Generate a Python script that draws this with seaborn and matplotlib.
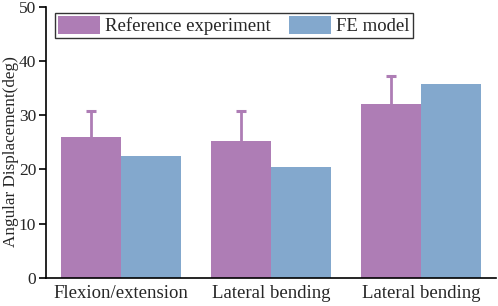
import matplotlib
matplotlib.use("Agg")
import matplotlib.pyplot as plt
import seaborn as sns
import pandas as pd
import numpy as np

# %% data
categories = ["Flexion/extension", "Lateral bending", "Lateral bending"]
reference = [25.9, 25.3, 32.1]
reference_err = [4.8, 5.4, 5.1]
fe_model = [22.4, 20.4, 35.7]
series = ["Reference experiment", "FE model"]
colors = ["#AE7DB5", "#83A8CD"]

df = pd.DataFrame({
    "pos": list(range(len(categories))) * 2,
    "value": reference + fe_model,
    "series": [series[0]] * 3 + [series[1]] * 3,
})

# %% figure
sns.set_style("ticks")
plt.rcParams["font.family"] = ["Liberation Serif", "DejaVu Serif"]
fig = plt.figure(figsize=(4.98, 3.06), dpi=100)
ax = fig.add_axes([46 / 498, 1 - 277.7 / 306, 450 / 498, 270.7 / 306])

sns.barplot(data=df, x="pos", y="value", hue="series", palette=colors,
            width=0.8, saturation=1, errorbar=None, linewidth=0, ax=ax)

# upper-only error bars on the reference bars
ref_bars = ax.containers[0]
xs = np.array([b.get_x() + b.get_width() / 2 for b in ref_bars])
tops = np.array(reference) + np.array(reference_err)
ax.vlines(xs, reference, tops, color=colors[0], linewidth=2, zorder=1)
ax.plot(xs, tops, linestyle="none", marker="_", markersize=7,
        markeredgewidth=2.2, color=colors[0], zorder=1)

ax.set_xlim(-0.5, 2.5)
ax.set_ylim(0, 50)
ax.set_yticks([0, 10, 20, 30, 40, 50])
ax.set_xticks(range(len(categories)))
ax.set_xticklabels(categories)
ax.tick_params(axis="x", length=0, labelsize=13.5, pad=5)
ax.tick_params(axis="y", labelsize=12.5, length=5, width=1.2, pad=2,
               direction="out", color="black")
ax.set_xlabel("")
ax.set_ylabel("Angular Displacement(deg)", fontsize=12.3)
ax.yaxis.set_label_coords((19 - 46) / 450, 0.467)
for s in ["top", "right"]:
    ax.spines[s].set_visible(False)
for s in ["left", "bottom"]:
    ax.spines[s].set_color("black")
    ax.spines[s].set_linewidth(1.2)

leg = ax.legend(ncol=2, loc="upper left", bbox_to_anchor=(0.02, 0.978),
                fontsize=13.5, frameon=True, fancybox=False, edgecolor="black",
                handlelength=2.24, handleheight=1.1, borderpad=0.15,
                columnspacing=1.0, handletextpad=0.27, borderaxespad=0)
leg.get_frame().set_linewidth(1.0)

fig.savefig("out.png", dpi=100)
